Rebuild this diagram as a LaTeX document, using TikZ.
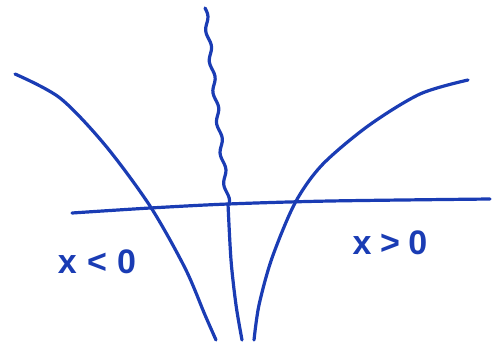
\documentclass[tikz,border=0pt]{standalone}
\usepackage{fontspec}
\setmainfont{Liberation Sans}
\usepackage{xcolor}
\usepackage{tikz}
\definecolor{penBlue}{HTML}{1A3CB4}

\begin{document}
\begin{tikzpicture}[
  x=1pt,y=-1pt,
  pen/.style={draw=penBlue,line width=3.2pt,line cap=round,line join=round},
  lbl/.style={text=penBlue,font=\bfseries\fontsize{34}{36}\selectfont,inner sep=0pt}
]
\useasboundingbox (0,0) rectangle (494,351);
% horizontal axis
\draw[pen] plot[smooth] coordinates {(72,213) (150,208) (228,204) (330,201) (490,199)};
% left branch
\draw[pen] plot[smooth] coordinates {(15,74) (60,98) (105,145) (150,206) (185,268) (205,315) (216,340)};
% right branch
\draw[pen] plot[smooth] coordinates {(468,80) (420,94) (368,126) (322,165) (295,203) (272,258) (259,305) (254,340)};
% wiggly line, upper part
\draw[pen] plot[smooth,samples=70,domain=0:1] ({205+23*\x+2*sin(2300*\x)},{8+196*\x});
% lower part
\draw[pen] plot[smooth] coordinates {(228,204) (231,260) (236,305) (242,340)};
\node[lbl] (neg) at (97,262) {x\hspace{0.3em}<\hspace{0.3em}0};
\node[lbl] (pos) at (390,243) {x\hspace{0.25em}>\hspace{0.25em}0};
\end{tikzpicture}
\end{document}
